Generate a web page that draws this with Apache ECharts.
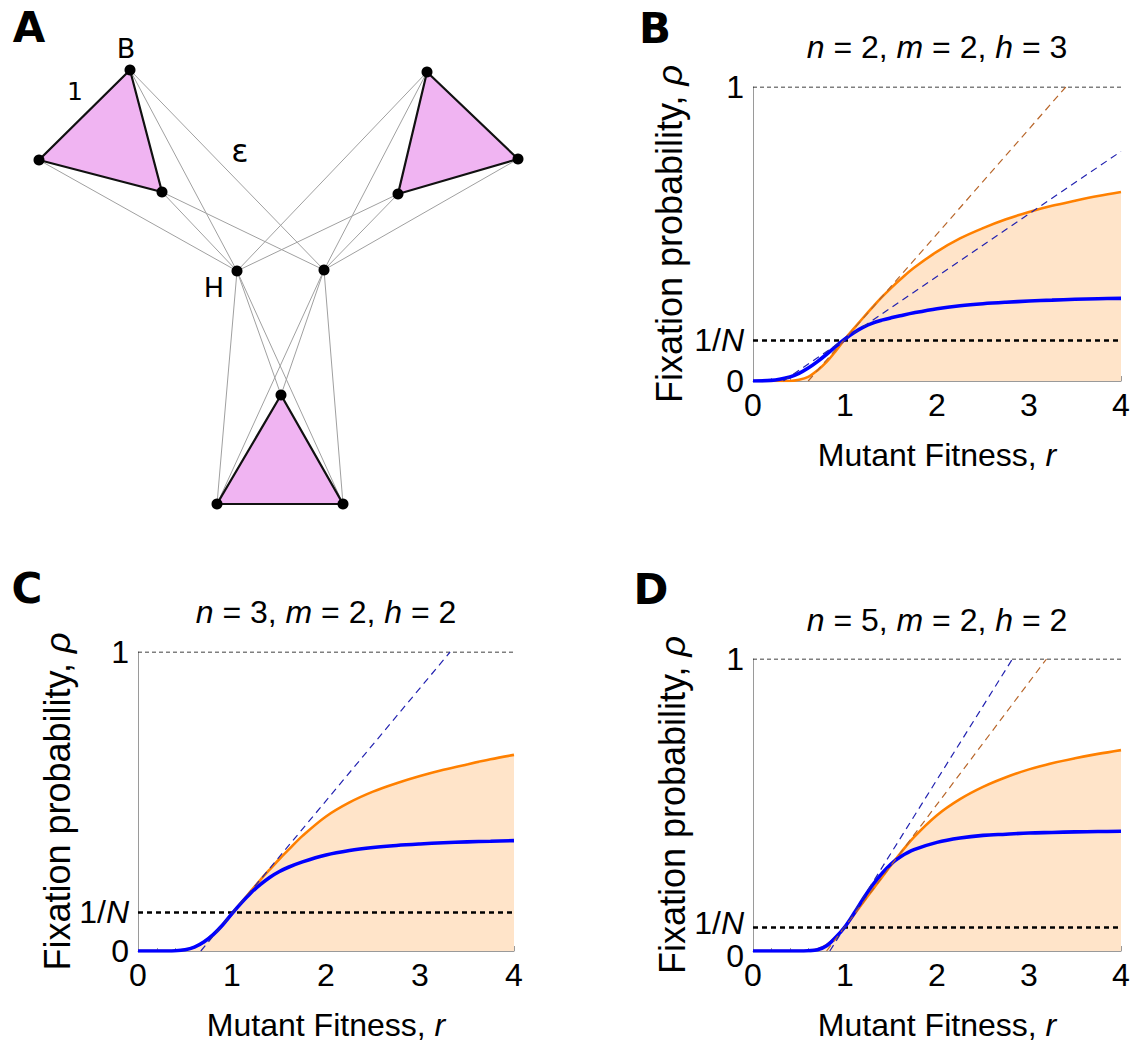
<!DOCTYPE html>
<html><head><meta charset="utf-8">
<script src="https://cdn.jsdelivr.net/npm/echarts@6/dist/echarts.min.js"></script>
<style>html,body{margin:0;padding:0;background:#fff}#c{width:1142px;height:1042px}</style>
</head><body><div id="c"></div>
<script>
// ---------- Panel A: network ----------
const nodeNames = ['B','L1','R1','T2','R2','L2','H','H2','T3','BL3','BR3'];
const nodeX = [130, 39, 162, 427, 518, 398, 237, 324, 281, 217, 343];
const nodeY = [70, 160, 192, 72, 159, 194, 271, 270, 395, 504, 504];
const triangles = [[0,1,2],[3,4,5],[8,9,10]];
const weakEdges = [[6,1],[6,0],[6,2],[6,3],[6,5],[6,8],[6,9],[6,10],
                   [7,0],[7,2],[7,3],[7,5],[7,4],[7,8],[7,9],[7,10]];
const networkLabels = [['B',126,48,27],['1',75,91,25],['\u03b5',240,151,32],['H',214,287,27]];

// ---------- Panels B, C, D ----------
const rValues = [0,0.2,0.4,0.5,0.6,0.7,0.8,0.9,1.0,1.1,1.2,1.3,1.4,1.5,1.6,1.75,2.0,2.25,2.5,2.75,3.0,3.25,3.5,3.75,4.0];
const xTicks = ['0','1','2','3','4'];
const yTicks = ['0','1'];
const panelTitles = [['n',' = 2, ','m',' = 2, ','h',' = 3'],['n',' = 3, ','m',' = 2, ','h',' = 2'],['n',' = 5, ','m',' = 2, ','h',' = 2']];
const popSizes = [7, 8, 12];

const orangeB = [0,0,0,0.004,0.014,0.036,0.065,0.102,0.143,0.18,0.216,0.251,0.285,0.316,0.345,0.385,0.44,0.485,0.52,0.55,0.575,0.596,0.613,0.629,0.643];
const blueB   = [0,0.002,0.014,0.026,0.044,0.066,0.091,0.118,0.143,0.165,0.183,0.197,0.207,0.215,0.222,0.232,0.246,0.256,0.263,0.268,0.272,0.275,0.278,0.28,0.281];
const orangeC = [0,0,0.001,0.004,0.013,0.03,0.055,0.087,0.125,0.163,0.2,0.237,0.272,0.306,0.338,0.385,0.45,0.497,0.533,0.561,0.585,0.606,0.624,0.641,0.656];
const blueC   = [0,0,0.001,0.004,0.013,0.03,0.055,0.087,0.125,0.161,0.194,0.222,0.246,0.265,0.28,0.298,0.321,0.336,0.346,0.353,0.358,0.362,0.365,0.367,0.369];
const orangeD = [0,0,0,0,0.001,0.005,0.02,0.047,0.083,0.125,0.168,0.21,0.252,0.294,0.334,0.39,0.465,0.52,0.562,0.595,0.622,0.643,0.66,0.675,0.688];
const blueD   = [0,0,0,0,0.001,0.004,0.018,0.047,0.083,0.13,0.18,0.226,0.265,0.298,0.322,0.347,0.372,0.387,0.396,0.4,0.404,0.406,0.408,0.409,0.41];

// dashed reference lines: [r, rho] end points
const dashOrangeB = [[0.6,0],[3.4,1]];
const dashBlueB   = [[0.33,0],[4,0.781]];
const dashBlueC   = [[0.668,0],[3.32,1]];
const dashOrangeD = [[0.80,0],[3.19,1]];
const dashBlueD   = [[0.835,0],[2.82,1]];

const FONT = 'Liberation Sans';
const ORANGE = '#ff8000', BLUE = '#0000ff', FILL = '#ffe4c9';
const DORANGE = '#b8662a', DBLUE = '#2222b0';

const grids = [
  {left:0, top:0, width:560, height:520},
  {left:753, top:87, width:368, height:294},
  {left:138, top:652, width:376, height:299},
  {left:753, top:659, width:368, height:294}
];
const yNameGaps = [66, 63, 63];
const labelNudge = [0, 0, 5];   // px: separate the crowded 0 and 1/N labels in panel D

const xAxes = [{gridIndex:0, type:'value', min:0, max:560, show:false}];
const yAxes = [{gridIndex:0, type:'value', min:0, max:520, inverse:true, show:false}];
const series = [];

// network
series.push({
  type:'lines', coordinateSystem:'cartesian2d', xAxisIndex:0, yAxisIndex:0, z:1, silent:true,
  lineStyle:{color:'#a0a0a0', width:1, opacity:1},
  data: weakEdges.map(e => ({coords:[[nodeX[e[0]],nodeY[e[0]]],[nodeX[e[1]],nodeY[e[1]]]]}))
});
series.push({
  type:'custom', xAxisIndex:0, yAxisIndex:0, z:2, silent:true,
  data: triangles.map(t => [nodeX[t[0]],nodeY[t[0]],nodeX[t[1]],nodeY[t[1]],nodeX[t[2]],nodeY[t[2]]]),
  encode:{x:[0,2,4], y:[1,3,5]},
  renderItem: function(params, api){
    const pts = [api.coord([api.value(0),api.value(1)]), api.coord([api.value(2),api.value(3)]), api.coord([api.value(4),api.value(5)])];
    return {type:'polygon', shape:{points:pts}, style:{fill:'#f0b4f2', stroke:'#111', lineWidth:2.2}};
  }
});
series.push({
  type:'scatter', xAxisIndex:0, yAxisIndex:0, z:3, silent:true, symbolSize:11,
  itemStyle:{color:'#000', opacity:1},
  data: nodeX.map((x,i) => [x, nodeY[i]])
});

function richIt(size){ return {i:{fontStyle:'italic', fontSize:size, fontFamily:FONT, color:'#000'}}; }

const panelData = [
  {orange:orangeB, blue:blueB, dashes:[[dashOrangeB,DORANGE],[dashBlueB,DBLUE]]},
  {orange:orangeC, blue:blueC, dashes:[[dashBlueC,DBLUE]]},
  {orange:orangeD, blue:blueD, dashes:[[dashOrangeD,DORANGE],[dashBlueD,DBLUE]]}
];

panelData.forEach((p, k) => {
  const gi = k + 1;
  const N = popSizes[k];
  const nud = labelNudge[k];
  xAxes.push({
    gridIndex:gi, type:'value', min:0, max:4, interval:1,
    name:'Mutant Fitness, {i|r}', nameLocation:'middle', nameGap:58,
    nameTextStyle:{fontSize:32, fontFamily:FONT, color:'#000', rich:richIt(32)},
    axisLine:{lineStyle:{color:'#9a9a9a', width:1}},
    axisTick:{show:true, inside:true, length:5, lineStyle:{color:'#9a9a9a'}},
    minorTick:{show:true, splitNumber:5, length:3, lineStyle:{color:'#9a9a9a'}},
    splitLine:{show:false},
    axisLabel:{fontSize:32, fontFamily:FONT, color:'#000', margin:8, formatter: v => xTicks[Math.round(v)]}
  });
  yAxes.push({
    gridIndex:gi, type:'value', min:0, max:1, interval:1,
    name:'Fixation probability, {i|\u03c1}', nameLocation:'middle', nameGap:yNameGaps[k],
    nameTextStyle:{fontSize:36, fontFamily:FONT, color:'#000', rich:richIt(36)},
    axisLine:{show:true, lineStyle:{color:'#9a9a9a', width:1}},
    axisTick:{show:false},
    splitLine:{show:false},
    axisLabel:{fontSize:32, fontFamily:FONT, color:'#000', margin:9,
      showMinLabel:true, showMaxLabel:true,
      formatter: v => Math.round(v) === 0 ? '{z|0}' : yTicks[Math.round(v)],
      rich:{z:{fontSize:32, fontFamily:FONT, color:'#000', padding:[2*nud,0,0,0]}}}
  });
  const ai = gi;
  series.push({
    type:'line', xAxisIndex:ai, yAxisIndex:ai, z:2, silent:true, showSymbol:false, symbol:'none',
    smooth:0.35,
    lineStyle:{color:ORANGE, width:2.6}, areaStyle:{color:FILL, opacity:1},
    data: rValues.map((r,i) => [r, p.orange[i]])
  });
  series.push({
    type:'line', xAxisIndex:ai, yAxisIndex:ai, z:3, silent:true, symbol:'none',
    lineStyle:{color:'#000', width:1, type:[4,3]},
    data: [[0,1],[4,1]],
    markLine:{
      silent:true, symbol:'none', animation:false, z:3,
      lineStyle:{color:'#000', width:2.6, type:[5,4]},
      label:{show:true, position:'start', distance:9, formatter:'1/{i|N}',
        padding:[0,0,2*nud,0],
        fontSize:32, fontFamily:FONT, color:'#000', rich:richIt(32)},
      emphasis:{disabled:true},
      data:[{yAxis:1/N}]
    }
  });
  series.push({
    type:'line', xAxisIndex:ai, yAxisIndex:ai, z:4, silent:true, showSymbol:false, symbol:'none',
    smooth:0.35,
    lineStyle:{color:BLUE, width:3.6},
    data: rValues.map((r,i) => [r, p.blue[i]])
  });
  p.dashes.forEach(d => {
    series.push({
      type:'line', xAxisIndex:ai, yAxisIndex:ai, z:5, silent:true, symbol:'none',
      lineStyle:{color:d[1], width:1.2, type:[7,5]},
      data: d[0]
    });
  });
});

// text graphics
const graphics = [];
[['A',29,27],['B',655,28],['C',27,588],['D',651,589]].forEach(l => {
  graphics.push({type:'text', x:l[1], y:l[2], silent:true,
    style:{text:l[0], align:'center', verticalAlign:'middle', font:'bold 42px "DejaVu Sans"', fill:'#000'}});
});
const titlePos = [[937,47],[326,612],[937,620]];
panelTitles.forEach((t,k) => {
  const txt = t.map((s,i) => i % 2 === 0 ? '{i|' + s + '}' : s).join('');
  graphics.push({type:'text', x:titlePos[k][0], y:titlePos[k][1], silent:true,
    style:{text:txt, align:'center', verticalAlign:'middle', fontSize:32, fontFamily:FONT, fill:'#000',
      rich:{i:{fontStyle:'italic', fontSize:32, fontFamily:FONT, fill:'#000'}}}});
});
networkLabels.forEach(l => {
  graphics.push({type:'text', x:l[1], y:l[2], silent:true,
    style:{text:l[0], align:'center', verticalAlign:'middle', fontSize:l[3], fontFamily:'DejaVu Sans', fill:'#000'}});
});

const chart = echarts.init(document.getElementById('c'), null, {renderer:'svg'});
chart.setOption({
  backgroundColor:'#fff',
  animation:false,
  grid: grids,
  xAxis: xAxes,
  yAxis: yAxes,
  series: series,
  graphic: graphics
});
</script></body></html>
